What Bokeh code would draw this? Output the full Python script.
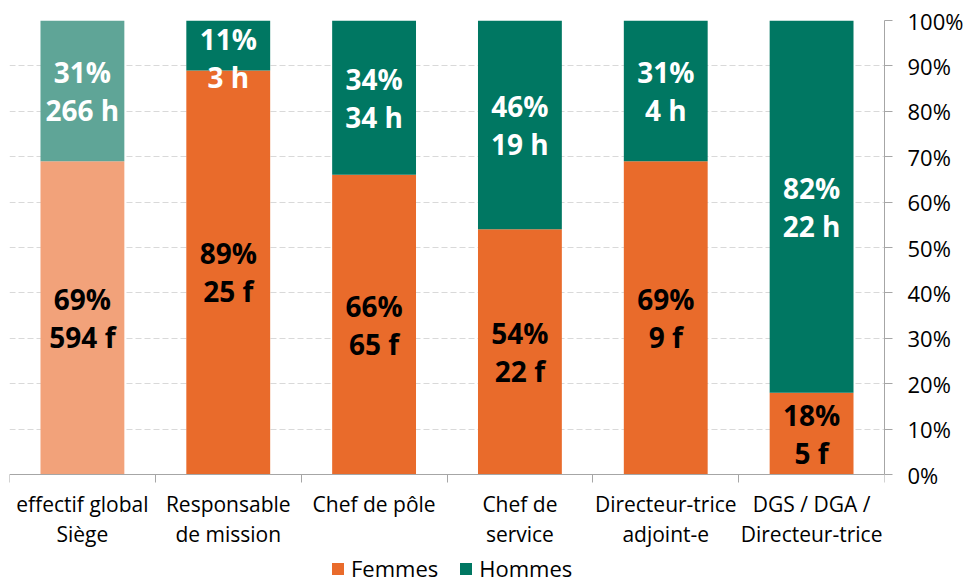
from bokeh.plotting import figure
from bokeh.models import (ColumnDataSource, Range1d, LinearAxis, FixedTicker,
                          PrintfTickFormatter, Legend, LegendItem)
from bokeh.core.properties import value
from bokeh.embed import file_html
from bokeh.resources import INLINE

categories = ["effectif global\nSiège", "Responsable\nde mission", "Chef de pôle",
              "Chef de\nservice", "Directeur-trice\nadjoint-e", "DGS / DGA /\nDirecteur-trice"]
femmes_pct = [69, 89, 66, 54, 69, 18]
hommes_pct = [31, 11, 34, 46, 31, 82]
femmes = [594, 25, 65, 22, 9, 5]
hommes = [266, 3, 34, 19, 4, 22]
y_ticks = [0, 10, 20, 30, 40, 50, 60, 70, 80, 90, 100]

col_f = ["#F2A27A"] + ["#E96B2B"] * 5
col_h = ["#5FA597"] + ["#007762"] * 5

FONT = "Open Sans"
n = len(categories)
xpos = [i + 0.5 for i in range(n)]

top_h = [f + h for f, h in zip(femmes_pct, hommes_pct)]
half = 8.3
yf = [min(max(f / 2, half), 100 - half) for f in femmes_pct]
yh = [min(max(f + h / 2, half), 100 - half) for f, h in zip(femmes_pct, hommes_pct)]

src = ColumnDataSource(dict(
    x=xpos, pf=femmes_pct, top=top_h, zero=[0] * n,
    cf=col_f, ch=col_h, yf=yf, yh=yh,
    lf_pct=[f"{v}%" for v in femmes_pct], lf_n=[f"{v} f" for v in femmes],
    lh_pct=[f"{v}%" for v in hommes_pct], lh_n=[f"{v} h" for v in hommes],
))

# frame extends below 0% so the category labels and legend sit inside it
p = figure(width=966, height=583, x_range=Range1d(0, n), y_range=Range1d(-24.0, 100),
           output_backend="svg", toolbar_location=None, y_axis_location="right",
           x_axis_location=None,
           min_border_left=9, min_border_top=20, min_border_right=82, min_border_bottom=0)
p.outline_line_color = None
p.background_fill_color = "white"
p.border_fill_color = "white"

rf = p.vbar(x="x", bottom="zero", top="pf", width=0.575, fill_color="cf", line_color=None, source=src)
rh = p.vbar(x="x", bottom="pf", top="top", width=0.575, fill_color="ch", line_color=None, source=src)

common = dict(text_font=value(FONT), text_font_style="bold", text_font_size="28px",
              text_align="center", text_baseline="middle", source=src)
p.text(x="x", y="yf", text="lf_pct", y_offset=-19, text_color="black", **common)
p.text(x="x", y="yf", text="lf_n", y_offset=19, text_color="black", **common)
p.text(x="x", y="yh", text="lh_pct", y_offset=-19, text_color="white", **common)
p.text(x="x", y="yh", text="lh_n", y_offset=19, text_color="white", **common)

# y axis (right)
ya = p.yaxis[0]
ya.ticker = FixedTicker(ticks=y_ticks)
ya.bounds = (0, 100)
ya.formatter = PrintfTickFormatter(format="%d%%")
ya.major_label_text_font = FONT
ya.major_label_text_font_size = "22px"
ya.major_label_text_color = "black"
ya.axis_line_color = "#A6A6A6"
ya.major_tick_line_color = "#A6A6A6"
ya.major_tick_out = 8
ya.major_tick_in = 0
ya.minor_tick_line_color = None
ya.major_label_standoff = 15

for g in p.grid:
    if g.dimension == 0:
        g.grid_line_color = None
    else:
        g.ticker = FixedTicker(ticks=y_ticks[1:])
        g.grid_line_color = "#D9D9D9"
        g.grid_line_dash = "6 3"

# x axes fixed at 0%: boundary ticks, then category labels
xa_edges = LinearAxis(ticker=FixedTicker(ticks=list(range(n + 1))), fixed_location=0)
xa_edges.axis_line_color = "#A6A6A6"
xa_edges.major_tick_line_color = "#A6A6A6"
xa_edges.major_tick_out = 8
xa_edges.major_tick_in = 0
xa_edges.minor_tick_line_color = None
xa_edges.major_label_text_font_size = "0px"
xa_edges.major_label_standoff = 0

xa = LinearAxis(ticker=FixedTicker(ticks=xpos), fixed_location=0,
                major_label_overrides={x: c for x, c in zip(xpos, categories)})
xa.axis_line_color = None
xa.major_tick_line_color = None
xa.major_tick_out = 0
xa.major_tick_in = 0
xa.minor_tick_line_color = None
xa.major_label_text_font = FONT
xa.major_label_text_font_size = "21px"
xa.major_label_text_color = "black"
xa.major_label_standoff = 15
xa.major_label_text_line_height = 1.08

p.add_layout(xa_edges, "below")
p.add_layout(xa, "below")

legend = Legend(items=[LegendItem(label="Femmes", renderers=[rf], index=1),
                       LegendItem(label="Hommes", renderers=[rh], index=1)],
                orientation="horizontal", location=(321, 0),
                label_text_font=FONT, label_text_font_size="22px", label_text_color="black",
                glyph_width=15, glyph_height=15, label_standoff=6, spacing=20,
                border_line_color=None, background_fill_alpha=0, padding=0, margin=0)
p.add_layout(legend, "center")

open("out.html", "w").write(file_html(p, INLINE))
